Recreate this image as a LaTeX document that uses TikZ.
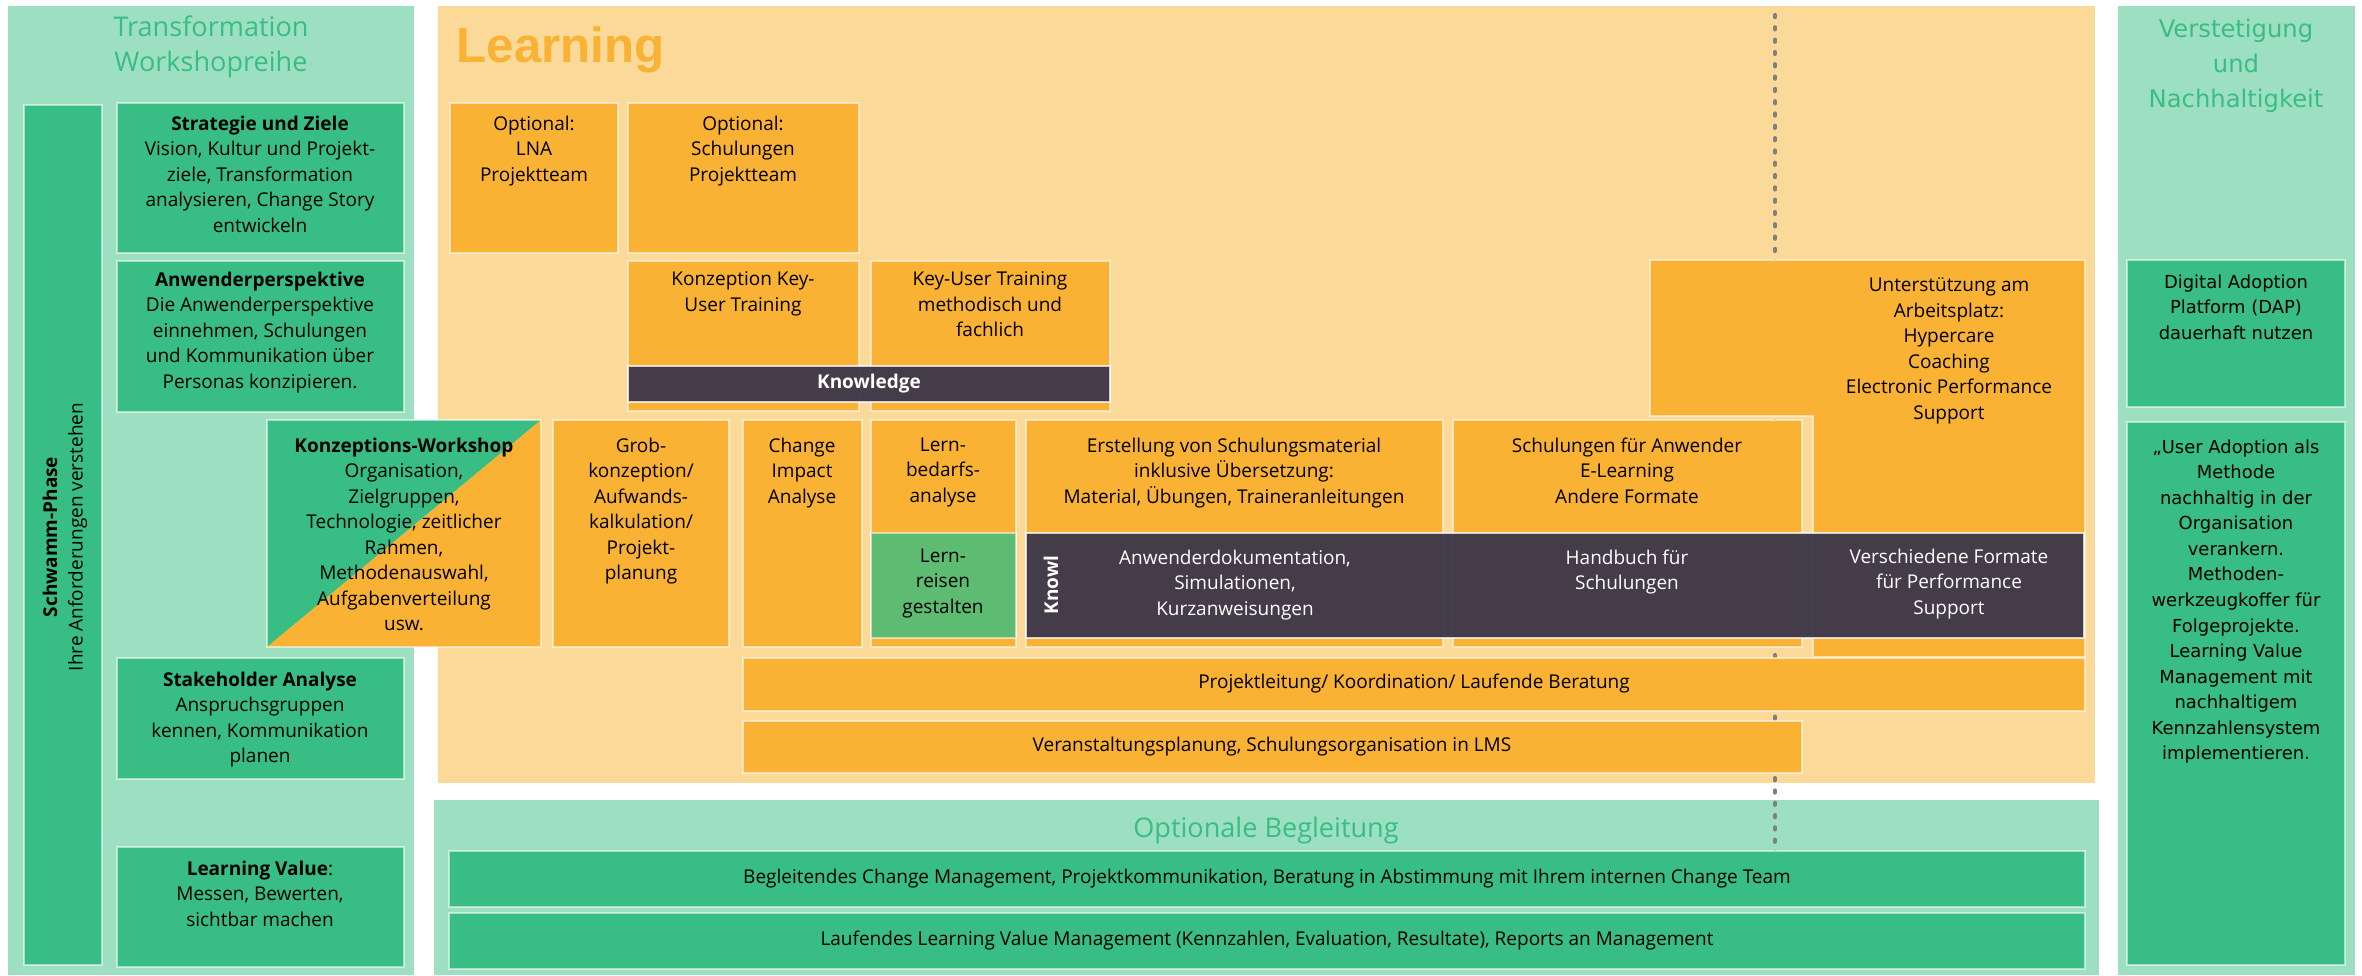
\documentclass[tikz,border=0pt]{standalone}
\usepackage{fontspec}
\setmainfont{Open Sans}
\newfontfamily\vfont{DejaVu Sans}
\newfontfamily\afont{Liberation Sans}
\definecolor{mint}{HTML}{9DE0C1}
\definecolor{grn}{HTML}{38BE84}
\definecolor{peach}{HTML}{FBD999}
\definecolor{org}{HTML}{F9B233}
\definecolor{drk}{HTML}{3F3A4A}
\definecolor{lgrn}{HTML}{5EBB72}
\definecolor{dotg}{HTML}{808080}
\newcommand\bodyfont{\fontsize{5.4pt}{7.26pt}\selectfont}
\newcommand\headfont{\fontsize{7.7pt}{10pt}\selectfont}
\newcommand\rightfont{\vfont\fontsize{5.1pt}{7.26pt}\selectfont}
\tikzset{
  panelg/.style={fill=mint},
  panelo/.style={fill=peach},
  gbox/.style={fill=grn, draw=white, draw opacity=.55, line width=.6pt},
  obox/.style={fill=org, draw=white, draw opacity=.55, line width=.6pt},
  lbox/.style={fill=lgrn, draw=white, draw opacity=.55, line width=.6pt},
  dbar/.style={fill=drk, fill opacity=.97, draw=white, draw opacity=.75, line width=.6pt},
  dotline/.style={dotg, line width=1.2pt, line cap=round, dash pattern=on .6pt off 2.9pt},
  txt/.style={font=\bodyfont, align=center, anchor=north, inner sep=0pt, text=black},
  wtxt/.style={txt, text=white},
  gtitle/.style={font=\headfont, align=center, inner sep=0pt, text=grn},
  rtxt/.style={font=\rightfont, align=center, anchor=north, inner sep=0pt, text=black}
}
\begin{document}
\begin{tikzpicture}[x=0.01cm, y=-0.01cm]
\useasboundingbox (0,0) rectangle (2362,975);
% panels
\fill[panelg] (8,6) rectangle (414,975);
\fill[panelo] (438,6) rectangle (2095,783);
\fill[panelg] (434,800) rectangle (2099,975);
\fill[panelg] (2118,6) rectangle (2355,975);
% divider
\coordinate (dtop) at (1775,15);
\coordinate (dbot) at (1775,912);
\draw[dotline] (dtop) -- (dbot);
% transformation column
\draw[gbox] (24,105) rectangle (102,965);
\draw[gbox] (117,103) rectangle (404,253);
\draw[gbox] (117,261) rectangle (404,412);
\draw[gbox] (117,658) rectangle (404,779);
\draw[gbox] (117,847) rectangle (404,967);
\fill[grn] (267,420) -- (541,420) -- (267,647) -- cycle;
\fill[org] (541,420) -- (541,647) -- (267,647) -- cycle;
\draw[white, draw opacity=.55, line width=.6pt] (267,420) rectangle (541,647);
% learning blocks
\draw[obox] (450,103) rectangle (618,253);
\draw[obox] (628,103) rectangle (859,253);
\draw[obox] (628,261) rectangle (859,411);
\draw[obox] (871,261) rectangle (1110,411);
\draw[obox] (553,420) rectangle (729,647);
\draw[obox] (743,420) rectangle (862,647);
\draw[obox] (871,420) rectangle (1016,647);
\draw[lbox] (871,533) rectangle (1016,638);
\draw[obox] (1026,420) rectangle (1443,647);
\draw[obox] (1650,260) -- (2085,260) -- (2085,657) -- (1813,657) -- (1813,416) -- (1650,416) -- cycle;
\draw[obox] (1453,420) rectangle (1802,647);
\draw[obox] (743,658) rectangle (2085,711);
\draw[obox] (743,721) rectangle (1802,773);
\draw[dbar] (628,366) rectangle (1110,402);
\draw[dbar] (1026,533) rectangle (2084,638);
% optionale begleitung
\draw[gbox] (449,851) rectangle (2085,907);
\draw[gbox] (449,913) rectangle (2085,969);
% verstetigung
\draw[gbox] (2127,260) rectangle (2345,407);
\draw[gbox] (2127,422) rectangle (2345,965);
% titles
\node[gtitle] (tw) at (211,47) {Transformation\\Workshopreihe};
\node[anchor=base west, inner sep=0pt, text=org, font=\afont\bfseries\fontsize{14pt}{16pt}\selectfont] (learn) at (456,62) {Learning};
\node[gtitle] (optb) at (1266,830) {Optionale Begleitung};
\node[gtitle, font=\vfont\fontsize{6.9pt}{10pt}\selectfont] (vn) at (2236,66) {Verstetigung\\und\\Nachhaltigkeit};
% texts
\node[txt, rotate=90, anchor=center] (schw) at (65,537) {\textbf{Schwamm-Phase}\\Ihre Anforderungen verstehen};
\node[txt] (strat) at (260,115) {\textbf{Strategie und Ziele}\\Vision, Kultur und Projekt-\\ziele, Transformation\\analysieren, Change Story\\entwickeln};
\node[txt] (anw) at (260,271) {\textbf{Anwenderperspektive}\\Die Anwenderperspektive\\einnehmen, Schulungen\\und Kommunikation über\\Personas konzipieren.};
\node[txt] (konz) at (404,437) {\textbf{Konzeptions-Workshop}\\Organisation,\\Zielgruppen,\\Technologie, zeitlicher\\Rahmen,\\Methodenauswahl,\\Aufgabenverteilung\\usw.};
\node[txt] (stake) at (260,671) {\textbf{Stakeholder Analyse}\\Anspruchsgruppen\\kennen, Kommunikation\\planen};
\node[txt] (lv) at (260,860) {\textbf{Learning Value}:\\Messen, Bewerten,\\sichtbar machen};
\node[txt] (lna) at (534,115) {Optional:\\LNA\\Projektteam};
\node[txt] (optsch) at (743,115) {Optional:\\Schulungen\\Projektteam};
\node[txt] (kku) at (743,271) {Konzeption Key-\\User Training};
\node[txt] (kut) at (990,271) {Key-User Training\\methodisch und\\fachlich};
\node[wtxt, anchor=center, font=\bodyfont\bfseries] (know) at (869,384) {Knowledge};
\node[txt] (grob) at (641,437) {Grob-\\konzeption/\\Aufwands-\\kalkulation/\\Projekt-\\planung};
\node[txt] (cia) at (802,437) {Change\\Impact\\Analyse};
\node[txt] (lba) at (943,437) {Lern-\\bedarfs-\\analyse};
\node[txt] (lrg) at (943,548) {Lern-\\reisen\\gestalten};
\node[txt] (erst) at (1234,437) {Erstellung von Schulungsmaterial\\inklusive Übersetzung:\\Material, Übungen, Traineranleitungen};
\node[txt] (schu) at (1627,437) {Schulungen für Anwender\\E-Learning\\Andere Formate};
\node[txt] (unt) at (1949,277) {Unterstützung am\\Arbeitsplatz:\\Hypercare\\Coaching\\Electronic Performance\\Support};
\node[wtxt, rotate=90, anchor=center, font=\bodyfont\bfseries] (knowl) at (1051,585) {Knowl};
\node[wtxt] (doku) at (1235,549) {Anwenderdokumentation,\\Simulationen,\\Kurzanweisungen};
\node[wtxt] (hand) at (1627,549) {Handbuch für\\Schulungen};
\node[wtxt] (vers) at (1949,548) {Verschiedene Formate\\für Performance\\Support};
\node[txt, anchor=center] (proj) at (1414,684) {Projektleitung/ Koordination/ Laufende Beratung};
\node[txt, anchor=center] (vera) at (1272,747) {Veranstaltungsplanung, Schulungsorganisation in LMS};
\node[txt, anchor=center] (begl) at (1267,879) {Begleitendes Change Management, Projektkommunikation, Beratung in Abstimmung mit Ihrem internen Change Team};
\node[txt, anchor=center] (lauf) at (1267,941) {Laufendes Learning Value Management (Kennzahlen, Evaluation, Resultate), Reports an Management};
\node[rtxt] (dap) at (2236,274) {Digital Adoption\\Platform (DAP)\\dauerhaft nutzen};
\node[rtxt] (uad) at (2236,439) {„User Adoption als\\Methode\\nachhaltig in der\\Organisation\\verankern.\\Methoden-\\werkzeugkoffer für\\Folgeprojekte.\\Learning Value\\Management mit\\nachhaltigem\\Kennzahlensystem\\implementieren.};
\end{tikzpicture}
\end{document}
